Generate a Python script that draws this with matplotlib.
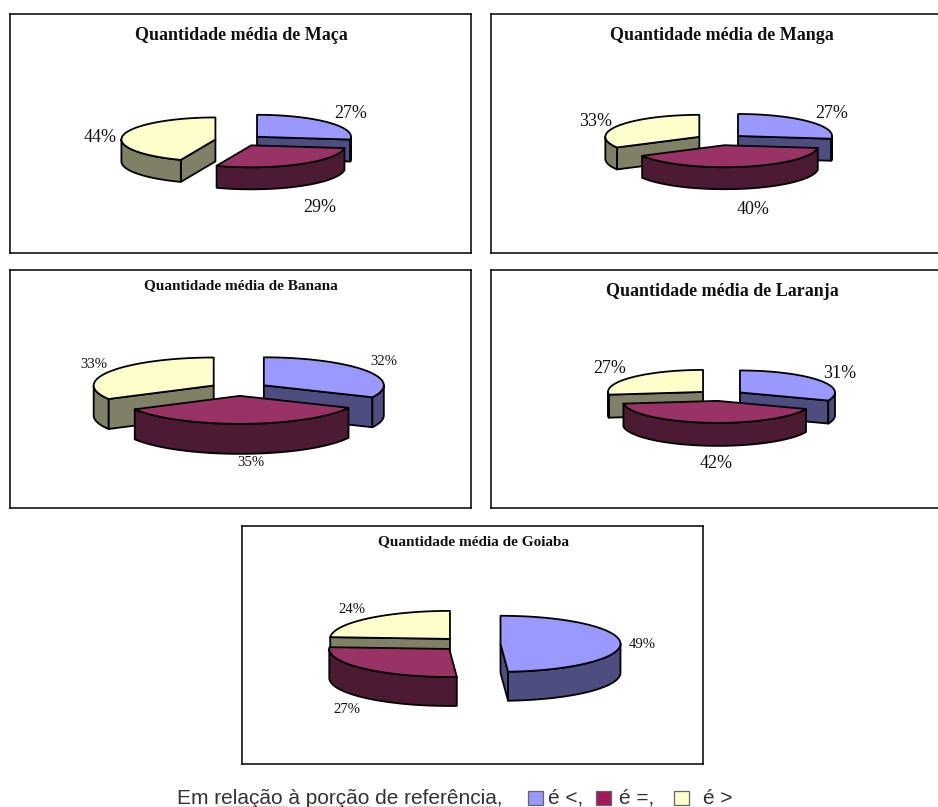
import numpy as np
import matplotlib
matplotlib.use('Agg')
from matplotlib import pyplot as plt
from matplotlib.patches import Polygon, Rectangle

# percent of each answer per fruit: "é <", "é =", "é >"
maca = [27, 29, 44]
manga = [27, 40, 33]
banana = [32, 35, 33]
laranja = [31, 42, 27]
goiaba = [49, 27, 24]

titles = ['Quantidade média de Maça', 'Quantidade média de Manga',
          'Quantidade média de Banana', 'Quantidade média de Laranja',
          'Quantidade média de Goiaba']
legend_title = 'Em relação à porção de referência,'
legend_labels = ['é <,', 'é =,', 'é >']

top_colors = ['#9999FF', '#993366', '#FFFFCC']
side_colors = ['#4D4D80', '#4D1A33', '#808066']
legend_colors = ['#9999FF', '#A3195B', '#FFFFCC']

W, H = 938, 807


def pixel_axes(fig, x0, y0, x1, y1):
    # axes whose data coordinates are pixels of the figure
    ax = fig.add_axes([x0 / W, 1 - y1 / H, (x1 - x0) / W, (y1 - y0) / H])
    ax.set_xlim(x0, x1)
    ax.set_ylim(y1, y0)
    ax.set_xticks([])
    ax.set_yticks([])
    return ax


def arc(cx, cy, rx, ry, a0, a1, dy=0):
    # angles in degrees, clockwise from 12 o'clock
    t = np.radians(np.linspace(a0, a1, 80))
    return np.column_stack([cx + rx * np.sin(t), cy - ry * np.cos(t) + dy])


def draw_slice(ax, cx, cy, rx, ry, depth, a0, a1, i):
    style = dict(edgecolor='black', linewidth=1.3, joinstyle='round')

    # radial walls, only the ones turned towards the viewer
    for a, seen in ((a0, np.sin(np.radians(a0)) < -1e-6), (a1, np.sin(np.radians(a1)) > 1e-6)):
        if seen:
            p = arc(cx, cy, rx, ry, a, a)[0]
            wall = [(cx, cy), p, (p[0], p[1] + depth), (cx, cy + depth)]
            ax.add_patch(Polygon(wall, facecolor=side_colors[i], **style))

    # outer wall: front half of the ellipse
    lo, hi = max(a0, 90), min(a1, 270)
    if hi > lo:
        upper = arc(cx, cy, rx, ry, lo, hi)
        lower = arc(cx, cy, rx, ry, hi, lo, depth)
        ax.add_patch(Polygon(np.vstack([upper, lower]), facecolor=side_colors[i], **style))

    top = np.vstack([[(cx, cy)], arc(cx, cy, rx, ry, a0, a1)])
    ax.add_patch(Polygon(top, facecolor=top_colors[i], **style))


def draw_pie(ax, values, cx, cy, rx, ry, depth, explode):
    edges = np.cumsum([0] + list(values)) * 3.6
    # blue and yellow sit behind the red slice
    for i in (0, 2, 1):
        a0, a1 = edges[i], edges[i + 1]
        mid = np.radians((a0 + a1) / 2)
        sx = cx + explode * np.sin(mid)
        sy = cy - explode * ry / rx * np.cos(mid)
        draw_slice(ax, sx, sy, rx, ry, depth, a0, a1, i)


panels = [
    dict(values=maca, box=(10, 14, 471, 253), title_y=36, title_size=13,
         pie=(239, 140.5, 94, 22, 22, 24), label_size=13,
         label_xy=[(351, 113), (320, 207), (100, 137)]),
    dict(values=manga, box=(491, 14, 952, 253), title_y=36, title_size=13,
         pie=(720, 139.7, 94, 22, 22, 24), label_size=13,
         label_xy=[(832, 113), (753, 209), (596, 121)]),
    dict(values=banana, box=(10, 270, 471, 508), title_y=286, title_size=11,
         pie=(239, 389, 120, 28, 30, 29.4), label_size=10.6,
         label_xy=[(384, 362), (251, 463), (94, 365)]),
    dict(values=laranja, box=(491, 270, 952, 508), title_y=292, title_size=13,
         pie=(720.6, 395.5, 95, 22, 23, 23.4), label_size=13,
         label_xy=[(840, 374), (716, 464), (610, 369)]),
    dict(values=goiaba, box=(242, 526, 703, 764), title_y=542, title_size=11,
         pie=(470.5, 644, 120, 28, 29, 30), label_size=10.6,
         label_xy=[(642, 644), (347, 709), (352, 609)]),
]

plt.rcParams['font.family'] = ['Liberation Serif', 'DejaVu Serif']

fig = plt.figure(figsize=(W / 100, H / 100), dpi=100, facecolor='white')

for panel, title in zip(panels, titles):
    x0, y0, x1, y1 = panel['box']
    ax = pixel_axes(fig, x0, y0, x1, y1)
    for spine in ax.spines.values():
        spine.set_linewidth(1.1)
    draw_pie(ax, panel['values'], *panel['pie'])
    ax.text(x0 + 231, panel['title_y'], title, ha='center', va='center',
            fontweight='bold', fontsize=panel['title_size'], color='#111111')
    for v, (tx, ty) in zip(panel['values'], panel['label_xy']):
        ax.text(tx, ty, '%d%%' % v, ha='center', va='center', fontsize=panel['label_size'], color='#111111')

# key along the bottom edge
key = pixel_axes(fig, 0, 775, W, H)
key.axis('off')
key.text(177, 798, legend_title, family='Liberation Sans', fontsize=15, color='#333333', va='center')
for sq_x, txt_x, c, lab in zip((528, 596, 674), (548, 619, 703), legend_colors, legend_labels):
    key.add_patch(Rectangle((sq_x, 791), 15, 14, facecolor=c, edgecolor='#666666', linewidth=0.9))
    key.text(txt_x, 798, lab, family='Liberation Sans', fontsize=15, color='#333333', va='center')

# spell-check squiggle under the flagged words
for xa, xb in ((218, 287), (308, 370), (409, 497)):
    key.plot([xa, xb], [805.5, 805.5], color='#E8A0A0', linewidth=0.9, linestyle=(0, (1, 1)))

fig.savefig('out.png', dpi=100)
